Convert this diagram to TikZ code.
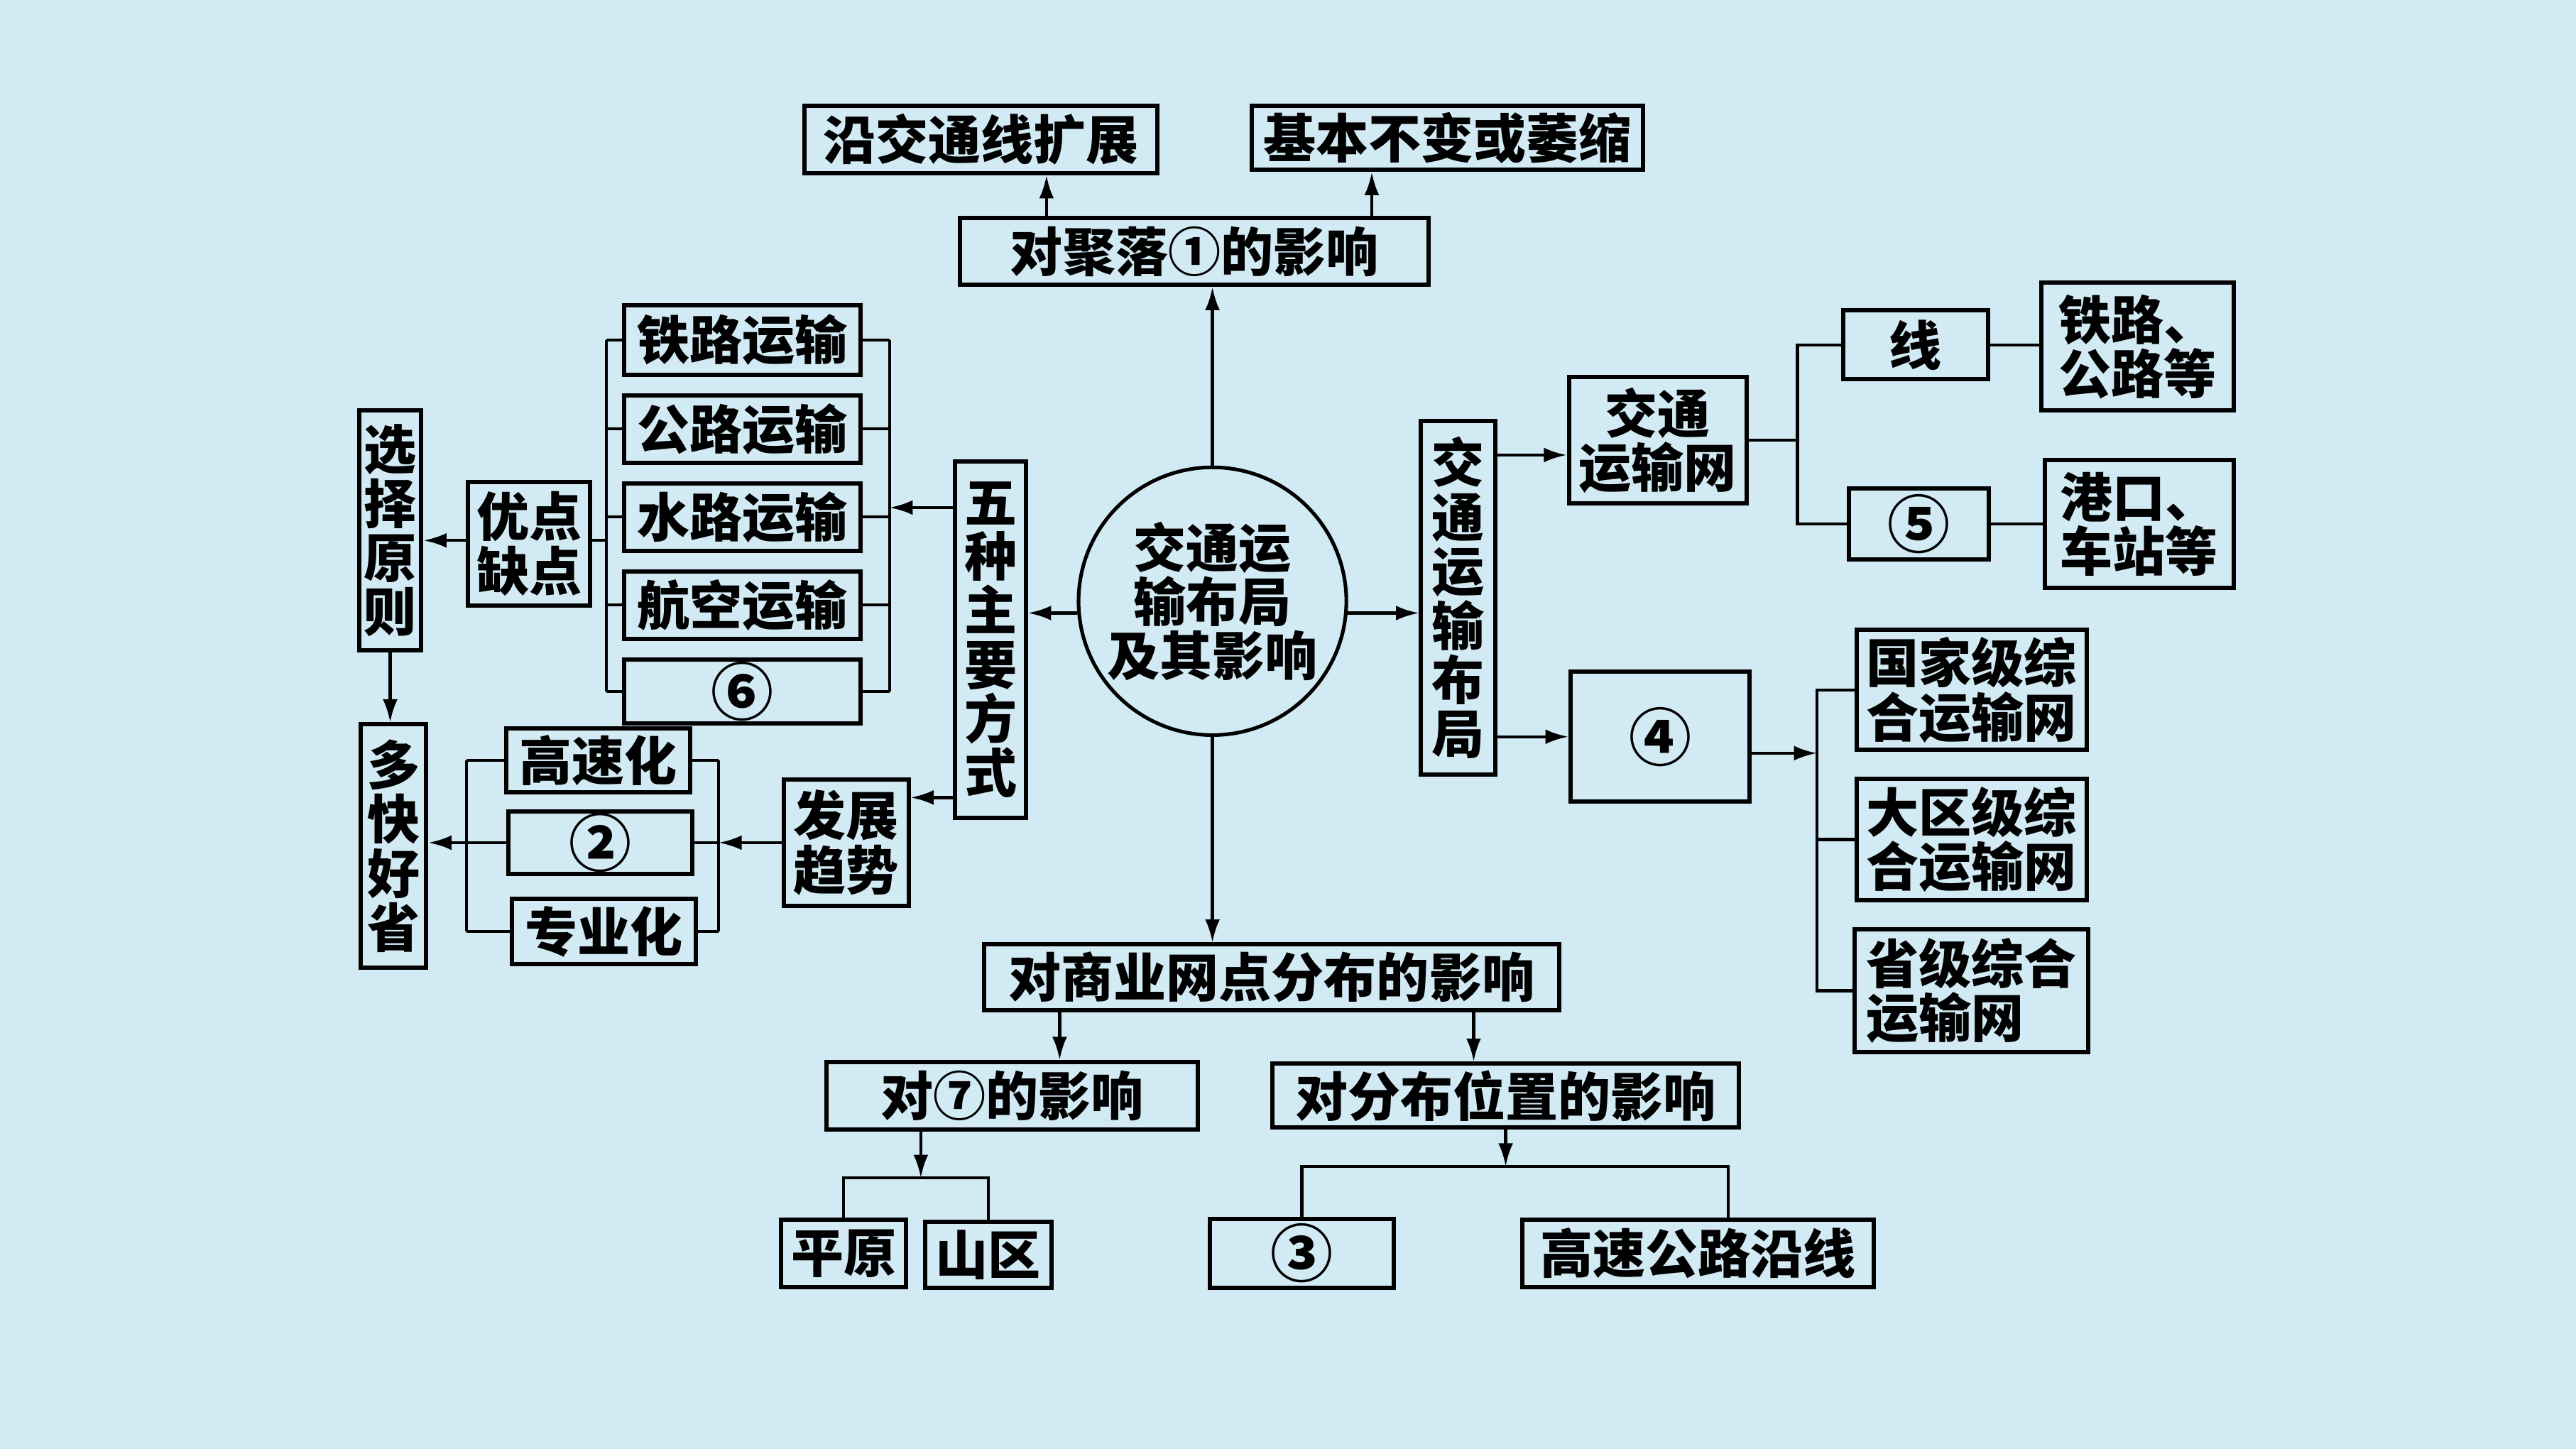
\documentclass[tikz,border=0pt]{standalone}
\usepackage{fontspec}
\setmainfont{Noto Sans CJK SC}
\usetikzlibrary{arrows.meta,positioning}
\definecolor{bgblue}{RGB}{210,234,243}
\begin{document}
\begin{tikzpicture}[x=1pt,y=-1pt,node distance=10pt,box/.style 2 args={draw,line width=2.6pt,inner sep=0pt,align=center,minimum width=#1,minimum height=#2,font=\bfseries\fontsize{32}{33}\selectfont},num/.style={font=\bfseries\fontsize{38}{38}\selectfont},ln/.style={line width=1.9pt},arr/.style={-{Latex[length=14pt,width=9pt]},line width=1.9pt}]
\fill[bgblue] (0,0) rectangle (1568,882);
\useasboundingbox (0,0) rectangle (1568,882);
\node[draw,circle,line width=2.2pt,minimum size=163pt,inner sep=0pt,align=center,font=\bfseries\fontsize{32}{33}\selectfont] (c) at (738,366) {交通运\\输布局\\及其影响};
\node[box={215pt}{41pt}] (top1) at (597,85) {沿交通线扩展};
\node[box={238pt}{39pt}] (top2) at (881,84) {基本不变或萎缩};
\node[box={285pt}{41pt}] (jl) at (727,153) {对聚落①的影响};
\node[box={350pt}{40pt}] (sy) at (774,595) {对商业网点分布的影响};
\node[box={226pt}{41pt}] (d7) at (616,667) {对⑦的影响};
\node[box={284pt}{39pt}] (fb) at (916.5,667) {对分布位置的影响};
\node[box={76pt}{41pt}] (py) at (513.5,763) {平原};
\node[box={77pt}{40pt}] (sq) at (601.5,764) {山区};
\node[box={112pt}{42pt},num] (n3) at (792.5,763) {③};
\node[box={214pt}{41pt}] (gs) at (1033.5,763) {高速公路沿线};
\node[box={43pt}{217pt}] (wz) at (603,389.5) {五\\种\\主\\要\\方\\式};
\node[box={144pt}{42pt}] (tl) at (452,207) {铁路运输};
\node[box={144pt}{41pt},below=of tl] (gl) {公路运输};
\node[box={144pt}{41pt},below=of gl] (sl) {水路运输};
\node[box={144pt}{41pt},below=of sl] (hk) {航空运输};
\node[box={144pt}{39pt},below=of hk,num] (n6) {⑥};
\node[box={74pt}{75pt}] (yq) at (322,331) {优点\\缺点};
\node[box={38pt}{146pt}] (xz) at (237.5,323) {选\\择\\原\\则};
\node[box={40pt}{148pt}] (dk) at (239.5,515) {多\\快\\好\\省};
\node[box={76pt}{77pt}] (fz) at (515,513) {发展\\趋势};
\node[box={112pt}{39pt}] (gsh) at (364,463) {高速化};
\node[box={112pt}{38pt},num] (n2) at (365.5,513) {②};
\node[box={112pt}{40pt}] (zy) at (367.5,567) {专业化};
\node[box={45pt}{215pt}] (jb) at (887.5,364) {交\\通\\运\\输\\布\\局};
\node[box={108pt}{77pt}] (jw) at (1009,268) {交通\\运输网};
\node[box={109pt}{79pt},num] (n4) at (1010.5,448.5) {④};
\node[box={88pt}{42pt}] (xian) at (1166,210) {线};
\node[box={85pt}{43pt},num] (n5) at (1168,319) {⑤};
\node[box={117pt}{78pt}] (tg) at (1301,211) {铁路、\\公路等};
\node[box={115pt}{78pt}] (gk) at (1302,319) {港口、\\车站等};
\node[box={140pt}{73pt}] (gj) at (1200,420) {国家级综\\合运输网};
\node[box={140pt}{74pt},below=15pt of gj] (dq) {大区级综\\合运输网};
\node[box={142pt}{75pt},below=15pt of dq,align=left] (sj) {省级综合\\运输网};
\coordinate (rb) at (541.5,309);\coordinate (lb) at (369,329);
\coordinate (rb2) at (437.5,513);\coordinate (lb2) at (284,513);
\coordinate (rb3) at (1094,268);\coordinate (rb4) at (1106,458.5);
\coordinate (b7) at (560.5,717);\coordinate (bp) at (916.5,710);\coordinate (bpr) at (1052,710);
\draw[arr] (c.north)--(c.north|-jl.south);\draw[arr] (c.south)--(c.south|-sy.north);
\draw[arr] (c.185)--(c.185-|wz.east);\draw[arr] (c.355)--(c.355-|jb.west);
\draw[arr] ([xshift=-90pt]jl.north)--([xshift=-90pt]jl.north|-top1.south);
\draw[arr] ([xshift=108pt]jl.north)--([xshift=108pt]jl.north|-top2.south);
\draw[arr] ([xshift=-129pt]sy.south)--([xshift=-129pt]sy.south|-d7.north);
\draw[arr] ([xshift=123pt]sy.south)--([xshift=123pt]sy.south|-fb.north);
\draw[arr] (d7.south-|b7)--(b7);\draw[ln] (py.north)--(py.north|-b7)--(sq.north|-b7)--(sq.north);
\draw[arr] (fb.south-|bp)--(bp);\draw[ln] (n3.north)|-(bpr)--(bpr|-gs.north);
\foreach \n in {tl,gl,sl,hk,n6}{\draw[ln] (\n.east)--(\n.east-|rb);\draw[ln] (\n.west)--(\n.west-|lb);}
\draw[ln] (tl.east-|rb)--(n6.east-|rb);\draw[ln] (tl.west-|lb)--(n6.west-|lb);
\draw[arr] (wz.west|-rb)--(rb);\draw[ln] (lb)--(lb-|yq.east);
\draw[arr] (yq.west|-lb)--(xz.east|-lb);\draw[arr] (xz.south)--(xz.south|-dk.north);
\draw[arr] ([yshift=-96pt]wz.west)--([yshift=-96pt]wz.west-|fz.east);
\foreach \n in {gsh,n2,zy}{\draw[ln] (\n.east)--(\n.east-|rb2);\draw[ln] (\n.west)--(\n.west-|lb2);}
\draw[ln] (gsh.east-|rb2)--(zy.east-|rb2);\draw[ln] (gsh.west-|lb2)--(zy.west-|lb2);
\draw[arr] (fz.west|-rb2)--(rb2);\draw[arr] (lb2)--(lb2-|dk.east);
\draw[arr] ([yshift=87pt]jb.east)--([yshift=87pt]jb.east-|jw.west);\draw[arr] (jb.east|-n4.west)--(n4.west);
\draw[ln] (jw.east)--(jw.east-|rb3);\draw[ln] (xian.west)--(xian.west-|rb3)--(n5.west-|rb3)--(n5.west);
\draw[ln] (xian.east)--(xian.east-|tg.west);\draw[ln] (n5.east)--(n5.east-|gk.west);
\draw[arr] ([yshift=-10pt]n4.east)--([yshift=-10pt]n4.east-|rb4);
\draw[ln] (gj.west)--(gj.west-|rb4)--(sj.west-|rb4)--(sj.west);\draw[ln] (dq.west)--(dq.west-|rb4);
\end{tikzpicture}
\end{document}
